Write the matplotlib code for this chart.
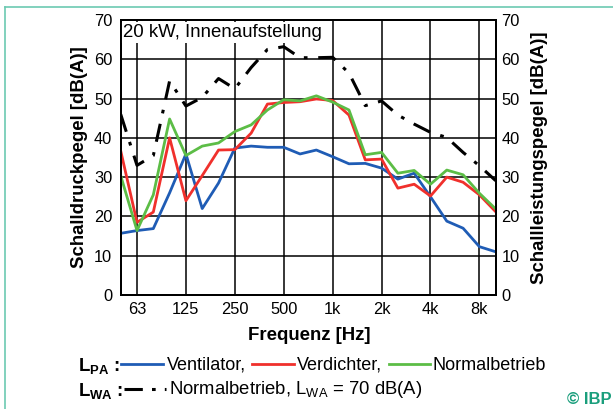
import matplotlib
matplotlib.use("Agg")
import matplotlib.pyplot as plt
from matplotlib.lines import Line2D

plt.rcParams['font.family'] = ['Liberation Sans', 'DejaVu Sans']
plt.rcParams['mathtext.fontset'] = 'custom'
plt.rcParams['mathtext.rm'] = 'Liberation Sans'
plt.rcParams['mathtext.it'] = 'Liberation Sans'
plt.rcParams['mathtext.bf'] = 'Liberation Sans:bold'

# third-octave bands 50 Hz .. 10 kHz
bands = ['50', '63', '80', '100', '125', '160', '200', '250', '315', '400',
         '500', '630', '800', '1k', '1.25k', '1.6k', '2k', '2.5k', '3.15k',
         '4k', '5k', '6.3k', '8k', '10k']
tick_labels = ['63', '125', '250', '500', '1k', '2k', '4k', '8k']

ventilator = [15.7, 16.4, 16.9, 26.0, 35.9, 22.0, 28.5, 37.4, 37.9, 37.6,
              37.6, 35.9, 36.9, 35.2, 33.4, 33.5, 32.3, 29.5, 31.0, 25.0,
              18.8, 17.0, 12.3, 11.0]
verdichter = [36.7, 18.5, 21.1, 40.0, 24.0, 30.4, 36.9, 37.0, 41.2, 48.6,
              49.0, 49.2, 49.9, 49.5, 45.8, 34.4, 34.6, 27.2, 28.2, 25.2,
              30.0, 28.7, 25.5, 21.2]
normal_pa = [30.4, 16.4, 25.5, 44.8, 35.5, 37.9, 38.7, 41.6, 43.3, 47.1,
             49.7, 49.4, 50.7, 49.1, 47.1, 35.7, 36.3, 31.0, 31.7, 28.2,
             31.8, 30.6, 25.9, 21.9]
normal_wa = [46.0, 33.0, 35.5, 54.5, 48.1, 50.3, 55.1, 52.5, 57.9, 62.5,
             63.2, 60.4, 60.4, 60.5, 56.5, 48.2, 49.4, 45.8, 43.5, 41.4,
             40.1, 36.3, 32.9, 29.1]

W, H = 613, 409
fig = plt.figure(figsize=(W / 100, H / 100), dpi=100)
ax = fig.add_axes([120.7 / W, 1 - 295 / H, 375 / W, 275 / H])

x = list(range(len(bands)))
ax.plot(x, ventilator, color='#1f5cb5', lw=2.0, zorder=3)
ax.plot(x, verdichter, color='#f0302c', lw=2.0, zorder=4)
ax.plot(x, normal_pa, color='#5cbd46', lw=2.0, zorder=5)

ax.set_xlim(0, len(bands) - 1)
ax.set_ylim(0, 70)
ticks = [bands.index(t) for t in tick_labels]
ax.set_xticks(ticks)
ax.set_xticklabels(tick_labels)
ax.set_yticks(range(0, 71, 10))
ax.grid(True, color='black', lw=1.1, zorder=1)
ax.tick_params(length=0, labelsize=11.8)
ax.tick_params(axis='y', pad=6)
ax.tick_params(axis='x', pad=5)
for s in ax.spines.values():
    s.set_linewidth(1.4)
ax.set_ylabel('Schalldruckpegel [dB(A)]', fontsize=13.4, fontweight='bold')
ax.yaxis.set_label_coords(-0.088, 0.5)

ax2 = ax.twinx()
ax2.plot(x, normal_wa, color='black', lw=2.2, ls=(0, (6, 3.5, 1.2, 3.5)), zorder=6)
ax2.set_ylim(0, 70)
ax2.set_yticks(range(0, 71, 10))
ax2.tick_params(length=0, labelsize=11.8, pad=4)
ax2.set_ylabel('Schallleistungspegel [dB(A)]', fontsize=13.4, fontweight='bold')
ax2.yaxis.set_label_coords(1.094, 0.5)
for s in ax2.spines.values():
    s.set_linewidth(1.4)

ax.text(0.005, 0.985, '20 kW, Innenaufstellung', transform=ax.transAxes,
        fontsize=13.4, ha='left', va='top', zorder=10,
        bbox=dict(facecolor='white', edgecolor='none', pad=1.5))

def fx(px):
    return px / W

def fy(py):
    return 1 - py / H

fig.text(fx(309), fy(336), 'Frequenz [Hz]', fontsize=13.4, fontweight='bold',
         ha='center', va='center')

# legend row 1
fig.text(fx(78), fy(366), r'$\mathbf{L_{PA}}$ :', fontsize=13.4,
         fontweight='bold', ha='left', va='center')
for x0, x1, c in [(121, 163, '#1f5cb5'), (252, 294, '#f0302c'), (389, 430, '#5cbd46')]:
    fig.add_artist(Line2D([fx(x0), fx(x1)], [fy(364), fy(364)], color=c, lw=2.0))
fig.text(fx(167), fy(365), 'Ventilator,', fontsize=13, ha='left', va='center')
fig.text(fx(297), fy(365), 'Verdichter,', fontsize=13, ha='left', va='center')
fig.text(fx(432), fy(365), 'Normalbetrieb', fontsize=13, ha='left', va='center')

# legend row 2
fig.text(fx(78), fy(391), r'$\mathbf{L_{WA}}$ :', fontsize=13.4,
         fontweight='bold', ha='left', va='center')
fig.add_artist(Line2D([fx(124), fx(166)], [fy(389), fy(389)], color='black',
                      lw=2.2, ls=(0, (6, 3, 1.2, 3, 1.2, 3))))
fig.text(fx(169), fy(390), r'Normalbetrieb, $\mathregular{L_{WA}}$ = 70 dB(A)',
         fontsize=13.3, ha='left', va='center')

fig.text(fx(612), fy(400), '© IBP', fontsize=12, fontweight='bold',
         color='#1a9e7c', ha='right', va='center')

# teal frame
teal = '#6cc9b2'
fig.add_artist(Line2D([fx(5), fx(613)], [fy(7), fy(7)], color=teal, lw=1.2))
fig.add_artist(Line2D([fx(5), fx(5)], [fy(7), fy(409)], color=teal, lw=1.2))

fig.savefig('out.png', dpi=100)
